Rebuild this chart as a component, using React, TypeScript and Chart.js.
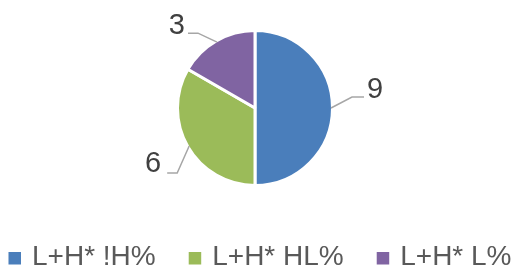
import React, { useEffect, useRef } from "react";
import { Chart, registerables } from "chart.js";

Chart.register(...registerables);

const categories = ["L+H* !H%", "L+H* HL%", "L+H* L%"];
const values = [9, 6, 3];
const colors = ["#4a7ebb", "#9bbb59", "#8064a2"];

// leader-line geometry per slice: elbow offset from slice edge, horizontal run, label offset
const elbowOffsets: [number, number][] = [[21, -11], [-12, 27], [-19, -9]];
const horizontalRuns = [12, -10, -10];
const labelGaps = [3, -6, -3];
const labelDy = [-7, -9, -7];

const FONT = "'Liberation Sans', Arial, sans-serif";

const leaderPlugin = {
  id: "leaders",
  afterDatasetsDraw(chart: any) {
    const meta = chart.getDatasetMeta(0);
    const ctx = chart.ctx as CanvasRenderingContext2D;
    const data = chart.data.datasets[0].data as number[];
    meta.data.forEach((arc: any, i: number) => {
      const p = arc.getProps(["x", "y", "startAngle", "endAngle", "outerRadius"], true);
      const mid = (p.startAngle + p.endAngle) / 2;
      const r = p.outerRadius - 1.5;
      const sx = p.x + Math.cos(mid) * r;
      const sy = p.y + Math.sin(mid) * r;
      const ex = sx + elbowOffsets[i][0];
      const ey = sy + elbowOffsets[i][1];
      const hx = ex + horizontalRuns[i];
      ctx.save();
      ctx.strokeStyle = "#a6a6a6";
      ctx.lineWidth = 1.5;
      ctx.beginPath();
      ctx.moveTo(sx, sy);
      ctx.lineTo(ex, ey);
      ctx.lineTo(hx, ey);
      ctx.stroke();
      ctx.fillStyle = "#404040";
      ctx.font = `29px ${FONT}`;
      ctx.textBaseline = "middle";
      ctx.textAlign = horizontalRuns[i] > 0 ? "left" : "right";
      ctx.fillText(String(data[i]), hx + labelGaps[i], ey + labelDy[i]);
      ctx.restore();
    });
  },
};

const legendPlugin = {
  id: "bottomLegend",
  afterDraw(chart: any) {
    const ctx = chart.ctx as CanvasRenderingContext2D;
    const labels = chart.data.labels as string[];
    const bg = chart.data.datasets[0].backgroundColor as string[];
    const box = 12.5;
    const boxGap = 11;
    const itemGap = 33;
    const centerX = 260;
    const textY = 257;
    ctx.save();
    ctx.font = `28px ${FONT}`;
    const widths = labels.map((l) => ctx.measureText(l).width);
    const total = widths.reduce((a, w) => a + box + boxGap + w, 0) + itemGap * (labels.length - 1);
    let x = centerX - total / 2;
    labels.forEach((l, i) => {
      ctx.fillStyle = bg[i];
      ctx.fillRect(x, 252, box, box);
      ctx.fillStyle = "#595959";
      ctx.textBaseline = "middle";
      ctx.textAlign = "left";
      ctx.fillText(l, x + box + boxGap, textY);
      x += box + boxGap + widths[i] + itemGap;
    });
    ctx.restore();
  },
};

export default function App() {
  const ref = useRef<HTMLCanvasElement>(null);
  useEffect(() => {
    if (!ref.current) return;
    const chart = new Chart(ref.current, {
      type: "pie",
      data: {
        labels: categories,
        datasets: [
          {
            data: values,
            backgroundColor: colors,
            borderColor: "#ffffff",
            borderWidth: 3,
          },
        ],
      },
      options: {
        animation: false,
        responsive: false,
        events: [],
        layout: { padding: { top: 29, bottom: 81, left: 0, right: 6 } },
        plugins: {
          tooltip: { enabled: false },
          legend: { display: false },
        },
      },
      plugins: [leaderPlugin, legendPlugin],
    });
    return () => chart.destroy();
  }, []);
  return (
    <div style={{ position: "fixed", left: 0, top: 0, width: 516, height: 268, background: "#fff" }}>
      <canvas ref={ref} width={516} height={268} style={{ width: 516, height: 268 }} />
    </div>
  );
}
